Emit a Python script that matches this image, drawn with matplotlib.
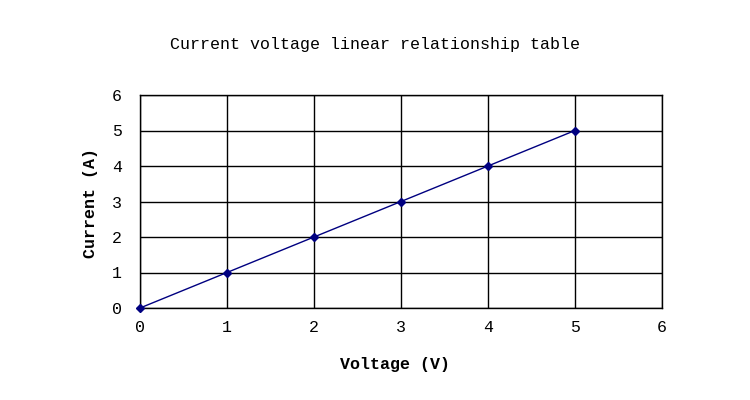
import matplotlib
matplotlib.use("Agg")
import matplotlib.pyplot as plt

# data
voltage = [0, 1, 2, 3, 4, 5]
current = [0, 1, 2, 3, 4, 5]
ticks = [0, 1, 2, 3, 4, 5, 6]

font = "Liberation Mono"

fig = plt.figure(figsize=(7.5, 4), dpi=100)
ax = fig.add_axes([140 / 750, 1 - 308 / 400, 522 / 750, 213 / 400])

ax.plot(voltage, current, color="#000080", lw=1, marker="D", ms=4,
        mfc="#000080", mec="#000080", zorder=3, clip_on=False)

ax.set_xlim(0, 6)
ax.set_ylim(0, 6)
ax.set_xticks(ticks)
ax.set_yticks(ticks)
ax.set_xticklabels([str(t) for t in ticks], fontfamily=font, fontsize=12)
ax.set_yticklabels([str(t) for t in ticks], fontfamily=font, fontsize=12)
ax.tick_params(axis="x", length=0, pad=9)
ax.tick_params(axis="y", length=0, pad=13)
ax.grid(True, color="black", lw=1)
for s in ax.spines.values():
    s.set_color("black")
    s.set_linewidth(1)

fig.text(375 / 750, 1 - 45 / 400, "Current voltage linear relationship table",
         ha="center", va="center", fontfamily=font, fontsize=12)
fig.text(395 / 750, 1 - 365 / 400, "Voltage (V)", ha="center", va="center",
         fontfamily=font, fontsize=12, fontweight="bold")
fig.text(90 / 750, 1 - 203 / 400, "Current (A)", ha="center", va="center",
         rotation=90, fontfamily=font, fontsize=12, fontweight="bold")

fig.savefig("out.png", dpi=100)
